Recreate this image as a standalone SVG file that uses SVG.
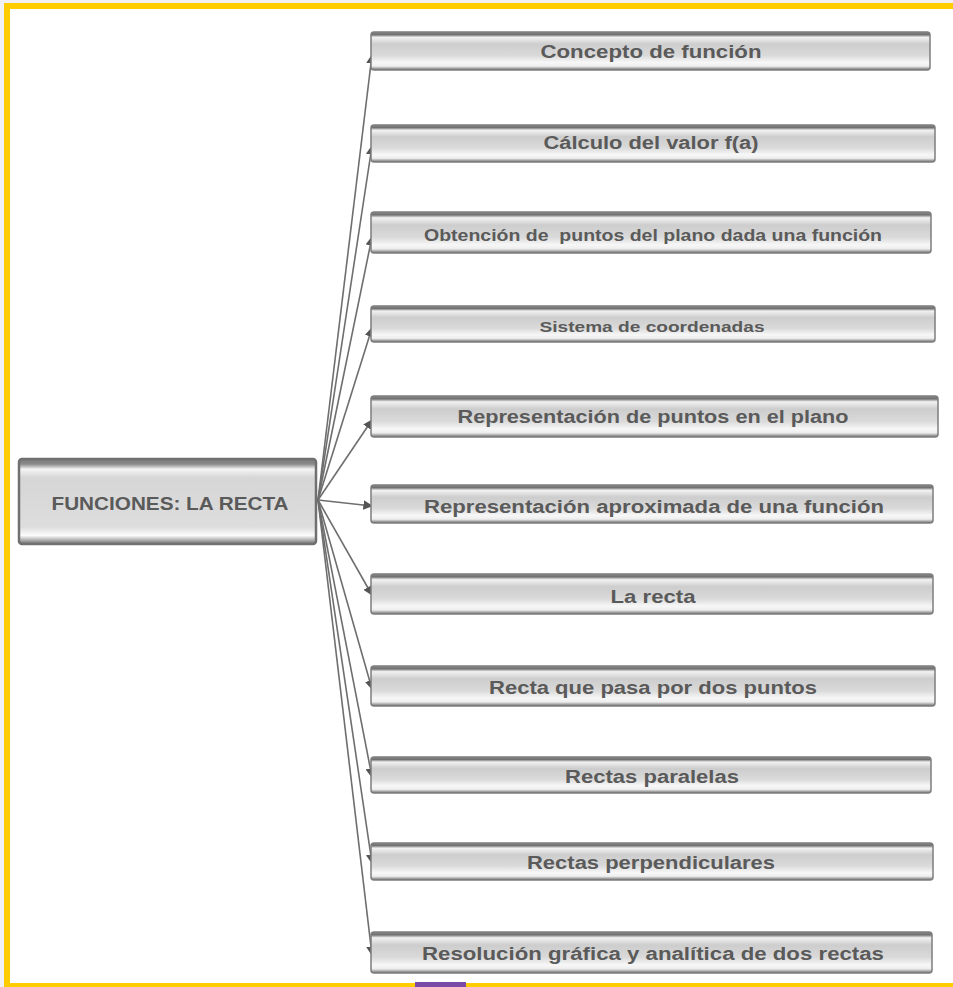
<svg xmlns="http://www.w3.org/2000/svg" width="953" height="987" viewBox="0 0 953 987">
<defs>
<linearGradient id="gb" x1="0" y1="0" x2="0" y2="1">
<stop offset="0" stop-color="#8c8c8c"/>
<stop offset="0.07" stop-color="#707070"/>
<stop offset="0.14" stop-color="#f2f2f2"/>
<stop offset="0.32" stop-color="#cdcdcd"/>
<stop offset="0.62" stop-color="#dadada"/>
<stop offset="0.8" stop-color="#f7f7f7"/>
<stop offset="0.9" stop-color="#eeeeee"/>
<stop offset="1" stop-color="#6a6a6a"/>
</linearGradient>
<linearGradient id="gm" x1="0" y1="0" x2="0" y2="1">
<stop offset="0" stop-color="#7a7a7a"/>
<stop offset="0.06" stop-color="#8a8a8a"/>
<stop offset="0.12" stop-color="#f4f4f4"/>
<stop offset="0.22" stop-color="#d6d6d6"/>
<stop offset="0.8" stop-color="#dddddd"/>
<stop offset="0.9" stop-color="#fbfbfb"/>
<stop offset="1" stop-color="#6e6e6e"/>
</linearGradient>
<marker id="ah" viewBox="0 0 10 10" refX="9" refY="5" markerWidth="6" markerHeight="6" orient="auto-start-reverse" markerUnits="strokeWidth">
<path d="M0,0 L10,5 L0,10 z" fill="#555"/>
</marker>
<style>
.bx{fill:url(#gb);stroke:#7d7d7d;stroke-width:1.5}
.mb{fill:url(#gm);stroke:#707070;stroke-width:2.5}
.lb{font-family:"Liberation Sans",Arial,sans-serif;font-weight:bold;fill:#5a5a5a;text-anchor:middle;dominant-baseline:central;white-space:pre}
.cn{fill:none;stroke:#6e6e6e;stroke-width:1.6;marker-end:url(#ah)}
</style>
</defs>
<rect x="0" y="0" width="953" height="987" fill="#f1f1f3"/>
<rect x="7" y="6" width="950" height="980" fill="#ffffff"/>
<rect x="4" y="3" width="949" height="6" fill="#ffcc00"/>
<rect x="4" y="3" width="6" height="984" fill="#ffcc00"/>
<rect x="4" y="983" width="949" height="4" fill="#ffcc00"/>
<rect x="415" y="982" width="51" height="5" fill="#7b4aa6"/>

<g id="connectors">
<path class="cn" d="M318,500 L372,55"/>
<path class="cn" d="M318,500 L372,146"/>
<path class="cn" d="M318,500 L372,237"/>
<path class="cn" d="M318,500 L372,328"/>
<path class="cn" d="M318,500 L372,420"/>
<path class="cn" d="M318,500 L372,506"/>
<path class="cn" d="M318,500 L372,595"/>
<path class="cn" d="M318,500 L372,689"/>
<path class="cn" d="M318,500 L372,777"/>
<path class="cn" d="M318,500 L372,863"/>
<path class="cn" d="M318,500 L372,955"/>
</g>

<g id="main">
<rect class="mb" x="19" y="459" width="297" height="85" rx="3"/>
<text class="lb" x="170" y="504" font-size="18" textLength="237" lengthAdjust="spacingAndGlyphs">FUNCIONES: LA RECTA</text>
</g>

<g id="n1"><rect class="bx" x="371" y="32" width="559" height="38" rx="3"/>
<text class="lb" x="651" y="52" font-size="18" textLength="221" lengthAdjust="spacingAndGlyphs">Concepto de función</text></g>
<g id="n2"><rect class="bx" x="371" y="125" width="564" height="37" rx="3"/>
<text class="lb" x="651" y="143" font-size="18" textLength="215" lengthAdjust="spacingAndGlyphs">Cálculo del valor f(a)</text></g>
<g id="n3"><rect class="bx" x="371" y="212" width="560" height="41" rx="3"/>
<text class="lb" x="653" y="235" font-size="16" textLength="458" lengthAdjust="spacingAndGlyphs" xml:space="preserve">Obtención de  puntos del plano dada una función</text></g>
<g id="n4"><rect class="bx" x="371" y="306" width="564" height="36" rx="3"/>
<text class="lb" x="652" y="326" font-size="15" textLength="225" lengthAdjust="spacingAndGlyphs">Sistema de coordenadas</text></g>
<g id="n5"><rect class="bx" x="371" y="396" width="567" height="41" rx="3"/>
<text class="lb" x="653" y="417" font-size="18" textLength="391" lengthAdjust="spacingAndGlyphs">Representación de puntos en el plano</text></g>
<g id="n6"><rect class="bx" x="371" y="485" width="562" height="38" rx="3"/>
<text class="lb" x="654" y="507" font-size="18" textLength="460" lengthAdjust="spacingAndGlyphs">Representación aproximada de una función</text></g>
<g id="n7"><rect class="bx" x="371" y="574" width="562" height="40" rx="3"/>
<text class="lb" x="653" y="597" font-size="18" textLength="85" lengthAdjust="spacingAndGlyphs">La recta</text></g>
<g id="n8"><rect class="bx" x="371" y="666" width="564" height="40" rx="3"/>
<text class="lb" x="653" y="688" font-size="18" textLength="328" lengthAdjust="spacingAndGlyphs">Recta que pasa por dos puntos</text></g>
<g id="n9"><rect class="bx" x="371" y="757" width="560" height="36" rx="3"/>
<text class="lb" x="652" y="777" font-size="18" textLength="174" lengthAdjust="spacingAndGlyphs">Rectas paralelas</text></g>
<g id="n10"><rect class="bx" x="371" y="843" width="562" height="37" rx="3"/>
<text class="lb" x="651" y="863" font-size="18" textLength="248" lengthAdjust="spacingAndGlyphs">Rectas perpendiculares</text></g>
<g id="n11"><rect class="bx" x="371" y="932" width="561" height="41" rx="3"/>
<text class="lb" x="653" y="954" font-size="18" textLength="462" lengthAdjust="spacingAndGlyphs">Resolución gráfica y analítica de dos rectas</text></g>
</svg>
